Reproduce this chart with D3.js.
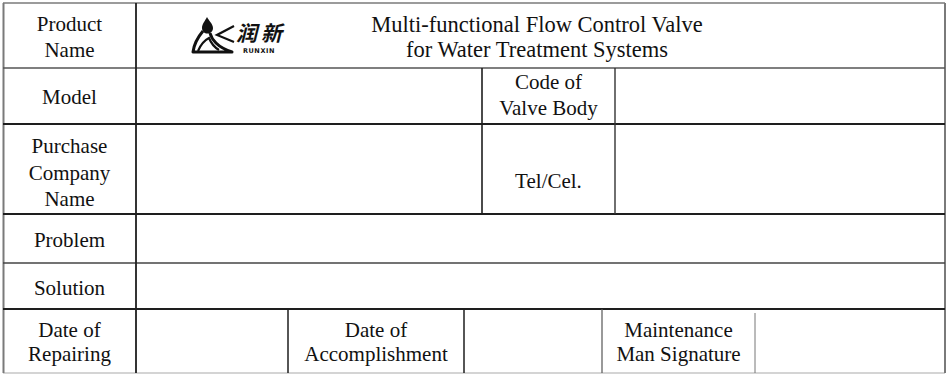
<!DOCTYPE html>
<html lang="en">
<head>
<meta charset="utf-8">
<script src="https://cdn.jsdelivr.net/npm/d3@7"></script>
<style>
html,body{margin:0;padding:0;background:#fff;}
svg{display:block;}
svg text.lbl{font-family:"Liberation Serif","Times New Roman",serif;}
</style>
</head>
<body>
<script>
// ---- content ----
const titleLines = ["Multi-functional Flow Control Valve", "for Water Treatment Systems"];
const brandCN = "润新";
const brandEN = "RUNXIN";
const rowNames = ["product", "model", "purchase", "problem", "solution", "dates"];
const labelsModelRow = [["Model"], ["Code of", "Valve Body"]];
const labelsPurchaseRow = [["Purchase", "Company", "Name"], ["Tel/Cel."]];
const labelProduct = ["Product", "Name"];
const labelProblem = ["Problem"];
const labelSolution = ["Solution"];
const labelsDateRow = [["Date of", "Repairing"], ["Date of", "Accomplishment"], ["Maintenance", "Man Signature"]];

// ---- layout (pixel grid) ----
const W = 949, H = 375;
const rowEdges = [3, 68, 124, 214, 263, 309, 373];
const colA = [3, 136, 945];                 // product / problem / solution rows
const colB = [3, 136, 482, 615, 945];       // model / purchase rows
const colC = [3, 136, 288, 464, 602, 755, 945]; // date row

const y = d3.scaleOrdinal().domain(rowNames).range(rowEdges.slice(0, 6));
const yEnd = d3.scaleOrdinal().domain(rowNames).range(rowEdges.slice(1));
const x = d3.scaleLinear().domain([0, W]).range([0, W]);

const svg = d3.select("body").append("svg").attr("width", W).attr("height", H);

const FS = 21, LH = 25.5;
const dark = "#1e1e1e", gray = "#7a7a7a";

function line(x1, y1, x2, y2, color, w) {
  svg.append("line").attr("x1", x(x1)).attr("y1", y1).attr("x2", x(x2)).attr("y2", y2)
    .attr("stroke", color).attr("stroke-width", w);
}

function label(lines, cx, cy, opts = {}) {
  const fs = opts.fs || FS, lh = opts.lh || LH;
  const n = lines.length;
  lines.forEach((t, i) => {
    const base = cy + (i - (n - 1) / 2) * lh + fs * 0.32;
    svg.append("text")
      .attr("class", "lbl")
      .attr("x", x(cx)).attr("y", base)
      .attr("text-anchor", "middle")
      .style("font-family", "Liberation Serif")
      .attr("font-size", fs)
      .attr("fill", "#111").text(t);
  });
}

// ---- grid lines ----
line(3, 3, 945, 3, gray, 1.5);
line(3, 373, 945, 373, "#aaa", 1.2);
line(3.5, 3, 3.5, 373, gray, 2);
line(945, 3, 945, 373, gray, 2);
line(3, 68, 945, 68, "#555", 1.4);
line(3, 124, 945, 124, dark, 2.2);
line(3, 214, 945, 214, dark, 2);
line(3, 263, 945, 263, "#444", 1.4);
line(3, 309, 945, 309, dark, 1.8);
line(136, 3, 136, 373, dark, 1.8);
line(482, 68, 482, 214, dark, 1.6);
line(615, 68, 615, 214, "#333", 1.4);
line(288, 309, 288, 373, dark, 1.5);
line(464, 309, 464, 373, dark, 1.5);
line(602, 309, 602, 373, "#555", 1.2);
line(755, 313, 755, 373, "#777", 1);

// ---- labels ----
const mid = r => (y(r) + yEnd(r)) / 2;
label(labelProduct, (colA[0] + colA[1]) / 2, mid("product") + 2);
label(titleLines, 537, mid("product") + 2, {fs: 22.5, lh: 24.5});
label(labelsModelRow[0], (colB[0] + colB[1]) / 2, mid("model") + 1);
label(labelsModelRow[1], (colB[2] + colB[3]) / 2, mid("model") - 0.5, {lh: 26});
label(labelsPurchaseRow[0], (colB[0] + colB[1]) / 2, mid("purchase") + 4, {lh: 26.5});
label(labelsPurchaseRow[1], (colB[2] + colB[3]) / 2, mid("purchase") + 12);
label(labelProblem, (colA[0] + colA[1]) / 2, mid("problem") + 1.5);
label(labelSolution, (colA[0] + colA[1]) / 2, mid("solution") + 2);
labelsDateRow.forEach((l, i) => {
  const c0 = colC[i * 2], c1 = colC[i * 2 + 1];
  label(l, (c0 + c1) / 2, mid("dates") + 1.5, {lh: 24});
});

// ---- logo ----
const logo = svg.append("g").attr("transform", "translate(192,17)");
logo.append("path")
  .attr("d", "M15,0 C13,4 10,7 10,11 C10,14.5 12.5,16.5 15.5,16.5 C18.5,16.5 21,14.5 21,11 C21,7 17,4 15,0 Z")
  .attr("fill", "#111");
logo.append("path")
  .attr("d", "M11,14 C6,20 2,27 1,35 L40,35 C34,33 28,30 24,26 C21,23 19,20 18,16")
  .attr("fill", "none").attr("stroke", "#111").attr("stroke-width", 3).attr("stroke-linejoin", "round");
logo.append("path")
  .attr("d", "M6,34 C9,27 13,23 17,21 C19,26 22,30 27,33")
  .attr("fill", "none").attr("stroke", "#111").attr("stroke-width", 2.2);
logo.append("path")
  .attr("d", "M42,9 L25,18 L42,25")
  .attr("fill", "none").attr("stroke", "#111").attr("stroke-width", 2.2);
svg.append("text").attr("x", 236).attr("y", 41).attr("lang", "zh-CN")
  .style("font-family", "Noto Sans CJK SC").attr("font-weight", 700)
  .attr("font-style", "italic").attr("font-size", 21).attr("letter-spacing", 4)
  .attr("fill", "#111").text(brandCN);
svg.append("text").attr("x", 259).attr("y", 52.5).attr("text-anchor", "middle")
  .style("font-family", "DejaVu Sans").attr("font-weight", 700)
  .attr("font-size", 6.5).attr("letter-spacing", 0.6)
  .attr("fill", "#111").text(brandEN);
</script>
</body>
</html>
